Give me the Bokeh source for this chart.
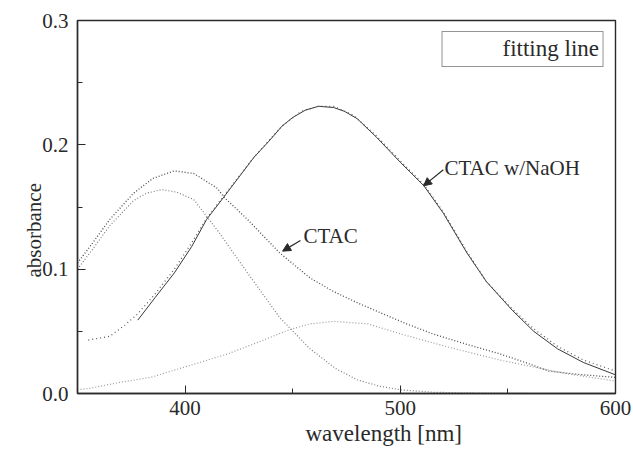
from bokeh.plotting import figure
from bokeh.models import (FixedTicker, PrintfTickFormatter, Legend, LegendItem,
                          Label, Arrow, NormalHead, Title)
from bokeh.embed import file_html
from bokeh.resources import INLINE

# ---- data ----
# CTAC measured spectrum
wl_ctac = [350, 357, 365, 376, 385, 395, 404, 415, 418, 429, 444, 458, 469, 480,
           492, 503, 515, 530, 546, 558, 569, 585, 600]
abs_ctac = [0.105, 0.121, 0.140, 0.161, 0.173, 0.179, 0.177, 0.165, 0.158, 0.140,
            0.113, 0.093, 0.082, 0.073, 0.064, 0.056, 0.048, 0.040, 0.032, 0.025,
            0.018, 0.015, 0.013]
# CTAC fitted component 1
wl_fit1 = [350, 357, 365, 376, 382, 389, 396, 404, 416, 429, 444, 458, 470, 480,
           490, 500, 515, 530, 560]
abs_fit1 = [0.100, 0.116, 0.135, 0.155, 0.161, 0.164, 0.162, 0.156, 0.129, 0.097,
            0.061, 0.036, 0.020, 0.011, 0.006, 0.003, 0.001, 0.0005, 0.0]
# CTAC fitted component 2 (broad)
wl_fit2 = [350, 355, 370, 384, 405, 420, 435, 448, 458, 469, 485, 500, 523, 546,
           577, 600]
abs_fit2 = [0.003, 0.004, 0.009, 0.013, 0.024, 0.032, 0.042, 0.051, 0.056, 0.058,
            0.056, 0.048, 0.037, 0.027, 0.016, 0.010]
# CTAC w/NaOH measured spectrum
wl_naoh = [378, 386, 395, 403, 410, 418, 425, 432, 439, 445, 450, 456, 462, 469,
           474, 480, 489, 500, 511, 520, 531, 540, 552, 562, 573, 585, 600]
abs_naoh = [0.059, 0.077, 0.097, 0.118, 0.140, 0.158, 0.174, 0.190, 0.203, 0.215,
            0.222, 0.228, 0.231, 0.230, 0.227, 0.221, 0.206, 0.186, 0.167, 0.145,
            0.113, 0.090, 0.067, 0.050, 0.036, 0.025, 0.015]
# CTAC w/NaOH fitting line
wl_naoh_fit = [355, 365, 372, 378, 386, 395, 403, 410, 418, 432, 445, 454, 462,
               469, 478, 489, 500, 511, 520, 531, 540, 552, 562, 573, 585, 600]
abs_naoh_fit = [0.043, 0.046, 0.055, 0.064, 0.080, 0.100, 0.121, 0.141, 0.159,
                0.190, 0.215, 0.227, 0.231, 0.231, 0.224, 0.207, 0.187, 0.168,
                0.146, 0.114, 0.090, 0.068, 0.052, 0.038, 0.027, 0.018]

x_ticks = [400, 500, 600]
y_ticks = [0.0, 0.1, 0.2, 0.3]
x_minor = [450, 550]
y_minor = [0.05, 0.15, 0.25]

legend_label = "fitting line"
x_title = "wavelength [nm]"
y_title = "absorbance"
ann_texts = ["CTAC", "CTAC w/NaOH"]
ann_x = [455, 520.5]
ann_y = [0.127, 0.181]
arrow_start = [(453.6, 0.123), (520.0, 0.180)]
arrow_end = [(445.3, 0.1145), (510.8, 0.167)]

FONT = "Liberation Serif"
INK = "#2a2a2a"

p = figure(width=633, height=449, x_range=(350, 600), y_range=(0, 0.3),
           output_backend="svg", toolbar_location=None,
           min_border_left=77, min_border_right=18, min_border_top=20,
           min_border_bottom=56)
p.grid.visible = False
p.outline_line_color = INK
p.outline_line_width = 1.4
p.background_fill_color = "white"
p.border_fill_color = "white"

for ax in (p.xaxis[0], p.yaxis[0]):
    ax.axis_line_color = INK
    ax.axis_line_width = 1.4
    ax.major_tick_in = 8
    ax.major_tick_out = 0
    ax.minor_tick_in = 5
    ax.minor_tick_out = 0
    ax.major_tick_line_color = INK
    ax.minor_tick_line_color = INK
    ax.major_label_text_font = FONT
    ax.major_label_text_font_size = "21px"
    ax.major_label_text_color = INK

p.xaxis.ticker = FixedTicker(ticks=x_ticks, minor_ticks=x_minor)
p.yaxis.ticker = FixedTicker(ticks=y_ticks, minor_ticks=y_minor)
p.yaxis.formatter = PrintfTickFormatter(format="%.1f")
p.xaxis.major_label_standoff = 7
p.yaxis.major_label_standoff = 9

dot = "1 2"
p.line(wl_fit2, abs_fit2, line_color="#9a9a9a", line_width=1.2, line_dash=dot)
p.line(wl_fit1, abs_fit1, line_color="#7a7a7a", line_width=1.2, line_dash=dot)
p.line(wl_ctac, abs_ctac, line_color="#4a4a4a", line_width=1.3, line_dash=dot)
p.line(wl_naoh, abs_naoh, line_color="#3a3a3a", line_width=1.0)
p.line(wl_naoh_fit, abs_naoh_fit, line_color="#555555", line_width=1.2,
       line_dash="1 3")

dummy = p.line(x=[], y=[], line_color="#dddddd", line_width=1, line_dash="1 3")
legend = Legend(items=[LegendItem(label=legend_label, renderers=[dummy])],
                location="top_right", margin=11, padding=4, glyph_width=48,
                glyph_height=20, label_standoff=8,
                label_text_font=FONT, label_text_font_size="23px",
                label_text_color=INK, border_line_color=INK,
                border_line_width=1.2, background_fill_alpha=1.0)
p.add_layout(legend)

for t, x, y in zip(ann_texts, ann_x, ann_y):
    p.add_layout(Label(x=x, y=y, text=t, text_font=FONT, text_font_size="21px",
                       text_color=INK, text_align="left", text_baseline="middle"))
for (x0, y0), (x1, y1) in zip(arrow_start, arrow_end):
    p.add_layout(Arrow(x_start=x0, y_start=y0, x_end=x1, y_end=y1,
                       line_color=INK, line_width=1.2,
                       end=NormalHead(size=8, fill_color=INK, line_color=INK)))

p.add_layout(Title(text=x_title, align="left", offset=228, standoff=3,
                   text_font=FONT, text_font_size="23px", text_color=INK,
                   text_font_style="normal"), "below")
p.add_layout(Title(text=y_title, align="left", offset=116, standoff=-12,
                   text_font=FONT, text_font_size="21px", text_color=INK,
                   text_font_style="normal"), "left")

open("out.html", "w").write(file_html(p, INLINE))
